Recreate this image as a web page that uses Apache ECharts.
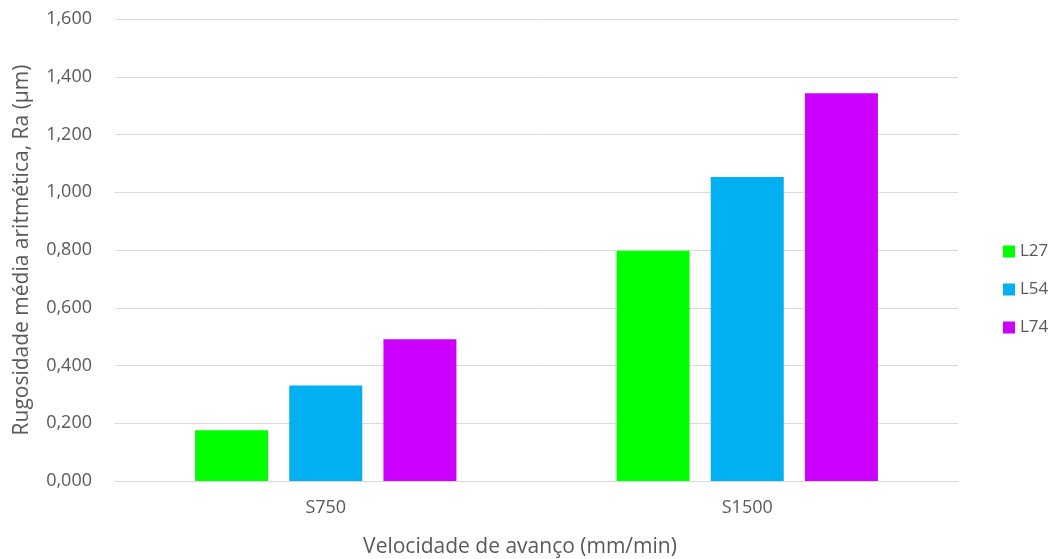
<!DOCTYPE html>
<html><head><meta charset="utf-8">
<script src="https://cdn.jsdelivr.net/npm/echarts@6/dist/echarts.min.js"></script>
<style>html,body{margin:0;padding:0;background:#fff}#c{width:1054px;height:559px}</style>
</head><body><div id="c"></div>
<script>
const categories = ['S750', 'S1500'];
const seriesNames = ['L27', 'L54', 'L74'];
const L27 = [0.176, 0.797];
const L54 = [0.331, 1.053];
const L74 = [0.491, 1.343];
const colors = ['#00FF00', '#00B0F0', '#CC00FF'];
const yTicks = { min: 0, max: 1.6, interval: 0.2 };

const font = 'Open Sans, Lato, sans-serif';
const chart = echarts.init(document.getElementById('c'), null, { renderer: 'canvas' });
const data = [L27, L54, L74];
chart.setOption({
  animation: false,
  textStyle: { fontFamily: font },
  grid: { left: 115, right: 96, top: 19, bottom: 78, containLabel: false, outerBoundsMode: 'none' },
  legend: {
    orient: 'vertical', left: 998, top: 238, itemGap: 21,
    itemWidth: 12, itemHeight: 12, icon: 'rect',
    textStyle: { color: '#595959', fontSize: 17, fontFamily: font },
    data: seriesNames
  },
  xAxis: {
    type: 'category', data: categories,
    name: 'Velocidade de avanço (mm/min)', nameLocation: 'middle', nameGap: 56,
    nameTextStyle: { color: '#595959', fontSize: 21, fontFamily: font, padding: [0, 33, 0, 0] },
    axisLine: { lineStyle: { color: '#D9D9D9', width: 1 } },
    axisTick: { show: false },
    axisLabel: { color: '#595959', fontSize: 18, margin: 18, fontFamily: font }
  },
  yAxis: {
    type: 'value', min: yTicks.min, max: yTicks.max, interval: yTicks.interval,
    name: 'Rugosidade média aritmética, Ra (µm)', nameLocation: 'middle', nameGap: 82,
    nameTextStyle: { color: '#595959', fontSize: 21, fontFamily: font },
    axisLine: { show: false }, axisTick: { show: false },
    splitLine: { lineStyle: { color: '#D9D9D9', width: 1 } },
    axisLabel: { color: '#595959', fontSize: 18, margin: 23, fontFamily: font,
      formatter: v => v.toFixed(3).replace('.', ',') }
  },
  series: seriesNames.map((n, i) => ({
    name: n, type: 'bar', data: data[i], barWidth: 73, barGap: '29%',
    itemStyle: { color: colors[i] }
  }))
});
</script></body></html>
